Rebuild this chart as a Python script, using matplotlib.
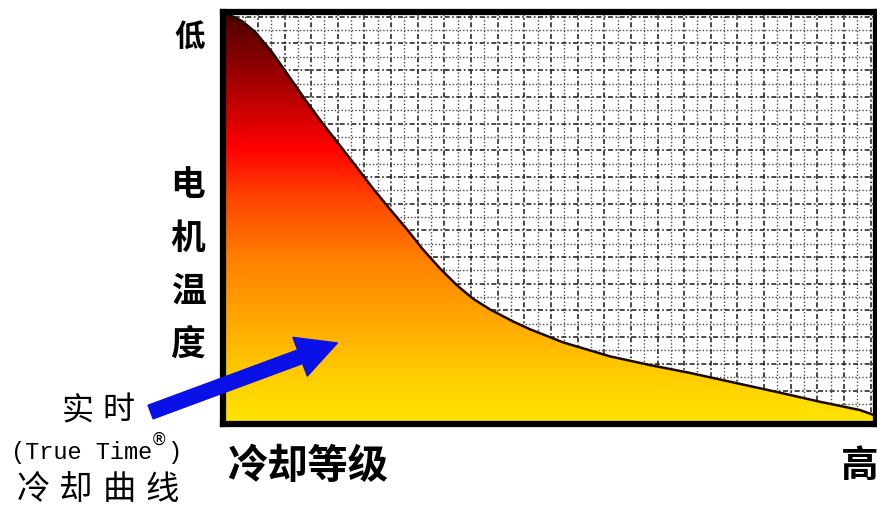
import numpy as np
import matplotlib
matplotlib.use("Agg")
import matplotlib.pyplot as plt
from matplotlib.colors import LinearSegmentedColormap
from matplotlib.patches import Polygon, FancyArrowPatch

# 曲线数据 (横轴: 冷却等级 0-100, 纵轴: 0-100)
cool_level = [0, 1.4, 2.9, 4.9, 7.5, 10.1, 12.6, 15.2, 17.8, 20.5, 23.0, 25.6,
              28.2, 30.6, 33.2, 35.8, 38.3, 40.9, 44.4, 47.0, 52.1, 59.3, 65.4,
              71.5, 78.4, 85.3, 91.4, 97.5, 100]
temp_curve = [99.5, 99.0, 97.8, 95.2, 90.3, 84.4, 78.7, 73.1, 67.8, 62.3, 57.1, 52.1,
              47.2, 42.4, 37.8, 33.7, 30.4, 27.8, 24.9, 23.0, 19.8, 16.4, 14.3,
              12.4, 10.0, 7.6, 5.4, 3.4, 2.0]

y_top_label = "低"
y_label = ["电", "机", "温", "度"]
x_left_label = "冷却等级"
x_right_label = "高"
note_top = ["实", "时"]
note_mid = "(True Time"
note_bot = ["冷", "却", "曲", "线"]

cjk = ["Noto Sans CJK SC", "DejaVu Sans"]

fig = plt.figure(figsize=(8.78, 5.08), dpi=100)
W, H = 878, 508
ax = fig.add_axes([223 / W, (H - 424) / H, (876 - 223) / W, (424 - 12) / H])
ax.set_xlim(0, 100)
ax.set_ylim(0, 100)

# 网格
ax.set_xticks(np.arange(1.26, 100, 4.08))
ax.set_xticks(np.arange(3.30, 100, 4.08), minor=True)
ax.set_yticks(np.arange(1.64, 100, 6.48))
ax.set_yticks(np.arange(4.88, 100, 6.48), minor=True)
ax.tick_params(which="both", length=0, labelbottom=False, labelleft=False)
ax.grid(which="major", color="#2a2a2a", lw=1.2, ls=(0, (3, 1.5, 1, 1.5)))
ax.grid(which="minor", color="#4a4a4a", lw=1.0, ls=(0, (1, 1.5)))
ax.set_axisbelow(True)

for s in ax.spines.values():
    s.set_linewidth(4.5)
    s.set_color("black")
    s.set_zorder(10)

# 渐变填充
cmap = LinearSegmentedColormap.from_list("heat", [
    (0.0, "#4a0000"), (0.15, "#9a0000"), (0.33, "#ff0000"), (0.45, "#ff4400"),
    (0.6, "#ff8000"), (0.75, "#ffa800"), (0.88, "#ffcc00"), (1.0, "#ffe600")])
grad = np.linspace(0, 1, 256).reshape(-1, 1)
im = ax.imshow(grad, cmap=cmap, extent=[0, 100, 0, 100], aspect="auto",
               origin="upper", zorder=2)
verts = list(zip(cool_level, temp_curve)) + [(100, 0), (0, 0)]
poly = Polygon(verts, closed=True, facecolor="none", edgecolor="none",
               transform=ax.transData)
ax.add_patch(poly)
im.set_clip_path(poly)
ax.plot(cool_level, temp_curve, color="#1a0a00", lw=1.8, zorder=3,
        solid_capstyle="round", solid_joinstyle="round")

# 坐标轴文字
def px(x, y):
    return x / W, 1 - y / H

fig.text(*px(190, 38), y_top_label, family=cjk, fontsize=22, fontweight="bold",
         ha="center", va="center")
for i, ch in enumerate(y_label):
    fig.text(*px(188, 185 + i * 53), ch, family=cjk, fontsize=25,
             fontweight="bold", ha="center", va="center")
fig.text(*px(227, 466), x_left_label, family=cjk, fontsize=29,
         fontweight="bold", ha="left", va="center")
fig.text(*px(860, 466), x_right_label, family=cjk, fontsize=27,
         fontweight="bold", ha="center", va="center")

# 左下注释
for i, ch in enumerate(note_top):
    fig.text(*px(78 + i * 40, 410), ch, family=cjk, fontsize=23,
             ha="center", va="center")
fs = 17
cw = 0.6 * fs * 100 / 72
x0 = 11
fig.text(*px(x0, 452), note_mid, family="Liberation Mono", fontsize=fs,
         ha="left", va="center")
fig.text(*px(x0 + cw * 10 + cw * 0.45, 440), "®", family="DejaVu Sans",
         fontsize=12, ha="center", va="center")
fig.text(*px(x0 + cw * 11, 452), ")", family="Liberation Mono", fontsize=fs,
         ha="left", va="center")
for i, ch in enumerate(note_bot):
    fig.text(*px(33 + i * 43, 490), ch, family=cjk, fontsize=24,
             ha="center", va="center")

# 蓝色箭头
arr = FancyArrowPatch(px(148, 413), px(340, 342), transform=fig.transFigure,
                      arrowstyle="simple,head_width=2.7,head_length=2.6,tail_width=0.95",
                      mutation_scale=11, color="#0a10e8", zorder=20)
fig.add_artist(arr)

fig.savefig("out.png", dpi=100)
